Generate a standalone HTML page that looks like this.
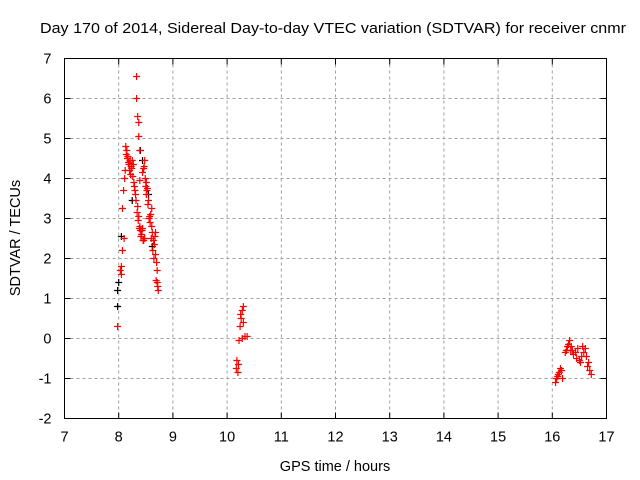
<!DOCTYPE html>
<html><head><meta charset="utf-8"><style>
body{margin:0;background:#fff;}
svg{display:block;font-family:"Liberation Sans",sans-serif;}
</style></head><body>
<svg id="chart" width="640" height="480">
<text x="40" y="33" font-size="15" textLength="586" lengthAdjust="spacingAndGlyphs" fill="#000">Day 170 of 2014, Sidereal Day-to-day VTEC variation (SDTVAR) for receiver cnmr</text>
<text transform="translate(20,238) rotate(-90)" text-anchor="middle" font-size="14.5">SDTVAR / TECUs</text>
<text x="335" y="471" text-anchor="middle" font-size="14.5">GPS time / hours</text>
<g id="grid"></g><g id="axes"></g><g id="marks"></g>
</svg>
<script>
const xTicks=[7,8,9,10,11,12,13,14,15,16,17];
const yTicks=[-2,-1,0,1,2,3,4,5,6,7];
const redX=[7.98,8.03,8.05,8.07,8.07,8.09,8.11,8.13,8.14,8.16,8.18,8.20,8.22,8.24,8.25,8.27,8.29,8.31,8.33,8.33,8.35,8.37,8.37,8.39,8.39,8.35,8.37,8.39,8.40,8.42,8.44,8.46,8.48,8.50,8.51,8.53,8.55,8.57,8.59,8.61,8.62,8.64,8.66,8.68,8.70,8.68,8.71,8.71,8.73,8.61,8.51,8.48,8.46,8.44,
8.15,8.17,8.19,8.21,8.23,8.26,8.28,8.30,8.32,8.34,8.36,8.38,8.41,8.43,8.45,8.47,8.49,8.52,8.54,8.56,8.58,8.60,8.63,8.65,8.67,8.69,8.72,8.05,8.10,8.12,
10.17,10.18,10.20,10.22,10.24,10.26,10.28,10.30,10.28,10.33,10.37,10.30,10.21,10.25,
16.06,16.08,16.10,16.13,16.17,16.19,16.24,16.28,16.32,16.34,16.35,16.39,16.43,16.47,16.50,16.54,16.58,16.61,16.63,16.67,16.69,16.72,16.11,16.15,16.26,16.30,16.37,16.45,16.52,16.56,16.65];
const redY=[0.3,1.7,1.8,2.2,3.25,3.7,4.0,4.8,4.6,4.5,4.4,4.2,4.1,4.25,4.45,4.35,3.8,3.6,6.55,6.0,5.55,5.4,5.05,4.7,3.95,3.3,3.05,2.8,2.7,2.6,2.75,2.45,2.5,3.8,3.9,3.75,3.45,3.05,3.1,2.8,2.65,2.45,2.35,2.1,1.9,2.65,1.7,1.4,1.2,3.25,3.6,4.45,4.25,4.15,
4.7,4.55,4.35,4.45,4.3,4.05,3.9,3.7,3.45,3.15,2.95,2.75,2.55,2.7,2.45,4.3,4.0,3.7,3.35,3.0,2.9,2.5,2.2,2.0,2.55,1.45,1.3,1.6,2.5,4.2,
-0.75,-0.55,-0.85,-0.05,0.3,0.5,0.7,0.8,0.0,0.05,0.05,0.4,-0.65,0.6,
-1.1,-1.0,-0.95,-0.85,-0.8,-1.0,-0.35,-0.2,-0.05,-0.3,-0.2,-0.4,-0.35,-0.25,-0.55,-0.45,-0.35,-0.25,-0.45,-0.6,-0.8,-0.9,-0.9,-0.75,-0.3,-0.15,-0.3,-0.5,-0.6,-0.2,-0.7];
const blackX=[7.98,7.98,8.0,8.05,8.40,8.44,8.25,8.55,8.62];
const blackY=[0.8,1.2,1.4,2.55,4.7,4.45,3.45,3.6,2.3];
const L=64.5,R=606.5,T=58.5,B=418.5,xMin=7,xMax=17,yMin=-2,yMax=7;
const sx=v=>L+(v-xMin)/(xMax-xMin)*(R-L);
const sy=v=>B-(v-yMin)/(yMax-yMin)*(B-T);
const NS="http://www.w3.org/2000/svg";
function mk(tag,attrs,parent){const e=document.createElementNS(NS,tag);for(const k in attrs)e.setAttribute(k,attrs[k]);parent.appendChild(e);return e;}
const grid=document.getElementById('grid'),axes=document.getElementById('axes'),marks=document.getElementById('marks');
xTicks.forEach(t=>{const x=sx(t);
 if(t>xMin&&t<xMax){const g=mk('line',{x1:x,x2:x,y1:T,y2:B,stroke:'#a0a0a0','stroke-dasharray':'3,3'},grid);}
 mk('line',{x1:x,x2:x,y1:B,y2:B-6,stroke:'#000'},axes);mk('line',{x1:x,x2:x,y1:T,y2:T+6,stroke:'#000'},axes);
 const tx=mk('text',{x:x,y:B+23,'text-anchor':'middle','font-size':'14.5'},axes);tx.textContent=t;
 
 });
yTicks.forEach(t=>{const y=sy(t);
 if(t>yMin&&t<yMax){const g=mk('line',{x1:L,x2:R,y1:y,y2:y,stroke:'#a0a0a0','stroke-dasharray':'3,3'},grid);}
 mk('line',{x1:L,x2:L+6,y1:y,y2:y,stroke:'#000'},axes);mk('line',{x1:R,x2:R-6,y1:y,y2:y,stroke:'#000'},axes);
 const tx=mk('text',{x:L-13,y:y+5,'text-anchor':'end','font-size':'14.5'},axes);tx.textContent=t;
 
 });
const fr=mk('rect',{x:L,y:T,width:R-L,height:B-T,fill:'none',stroke:'#000'},axes);


function plus(xs,ys,color,name){xs.forEach((v,i)=>{const x=sx(v),y=sy(ys[i]);
 const p=mk('path',{d:`M${x-3.5},${y}H${x+3.5}M${x},${y-3.5}V${y+3.5}`,stroke:color,'stroke-width':'1.2',fill:'none'},marks);
 
 });}
plus(blackX,blackY,'#000','black-point');
plus(redX,redY,'#ff0000','red-point');
</script>
</body></html>
